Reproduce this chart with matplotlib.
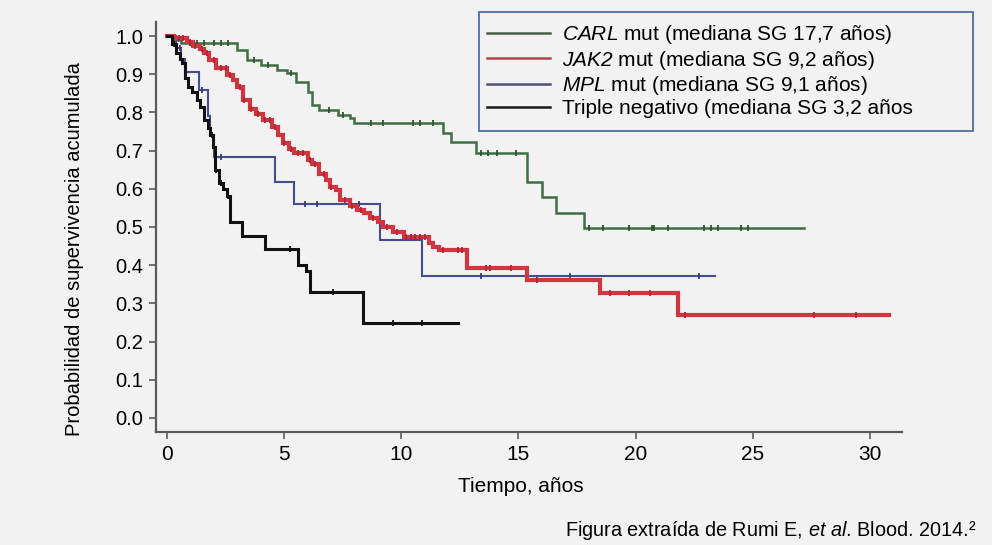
import numpy as np
import matplotlib
matplotlib.use("Agg")
import matplotlib.pyplot as plt
from matplotlib.lines import Line2D
from matplotlib.patches import Rectangle

plt.rcParams['font.family'] = ['Liberation Sans', 'DejaVu Sans']
plt.rcParams['mathtext.fontset'] = 'custom'
# math parts are only used for italic words, so digits there must be italic too
plt.rcParams['mathtext.rm'] = 'Liberation Sans:italic'
plt.rcParams['mathtext.it'] = 'Liberation Sans:italic'

# Kaplan-Meier curves: change times (years) and survival after each change
green_t = [0, 0.3, 0.6, 3.0, 3.4, 4.0, 4.7, 5.1, 5.5, 6.0, 6.2, 6.5, 7.3, 7.8, 8.0,
           11.8, 12.1, 13.2, 15.35, 16.0, 16.6, 17.8]
green_s = [1.0, 0.99, 0.982, 0.963, 0.937, 0.924, 0.911, 0.903, 0.88, 0.853, 0.82, 0.806,
           0.793, 0.785, 0.772, 0.746, 0.722, 0.694, 0.618, 0.579, 0.537, 0.497]
green_end = 27.2
green_cens = [1.0, 1.3, 1.6, 2.0, 2.3, 2.6, 3.7, 4.3, 5.3, 6.9, 7.5, 8.7, 9.2, 10.5, 10.8,
              11.35, 13.4, 13.7, 14.1, 14.9, 18.0, 18.6, 19.7, 20.7, 20.8, 21.4, 22.9,
              23.2, 23.5, 24.5, 24.8]

red_t = [0, 0.3, 0.85, 1.1, 1.4, 1.6, 1.8, 2.1, 2.56, 2.8, 3.0, 3.25, 3.54, 3.8, 4.1, 4.5,
         4.75, 4.95, 5.2, 5.4, 6.0, 6.2, 6.5, 6.8, 6.96, 7.2, 7.4, 7.8, 8.1, 8.4, 8.66, 9.0,
         9.2, 9.65, 10.1, 11.2, 11.35, 11.6, 12.8, 15.35, 18.5, 21.8]
red_s = [1.0, 0.995, 0.985, 0.975, 0.965, 0.955, 0.937, 0.916, 0.898, 0.885, 0.867, 0.832,
         0.81, 0.795, 0.78, 0.762, 0.74, 0.72, 0.705, 0.694, 0.675, 0.665, 0.64, 0.623,
         0.605, 0.597, 0.571, 0.555, 0.545, 0.537, 0.524, 0.512, 0.50, 0.487, 0.474, 0.458,
         0.448, 0.44, 0.393, 0.361, 0.327, 0.27]
red_end = 30.8
red_cens = [0.5, 0.7, 1.0, 1.2, 1.5, 1.7, 2.0, 2.3, 2.5, 2.7, 3.1, 3.3, 3.6, 3.9, 4.2, 4.4,
            4.6, 5.0, 5.3, 5.6, 5.8, 6.1, 6.3, 6.7, 7.0, 7.6, 7.9, 8.3, 8.8, 9.4, 9.8,
            10.2, 10.4, 10.6, 10.8, 11.0, 11.8, 12.4, 12.6, 13.6, 13.8, 14.7, 15.8, 18.9,
            19.7, 20.6, 22.1, 27.6, 29.4]

blue_t = [0, 0.4, 0.6, 0.75, 1.35, 1.75, 1.85, 2.0, 4.6, 5.4, 9.1, 10.9]
blue_s = [1.0, 0.97, 0.94, 0.906, 0.86, 0.79, 0.74, 0.683, 0.618, 0.56, 0.466, 0.372]
blue_end = 23.4
blue_cens = [0.55, 1.5, 2.3, 5.9, 6.4, 8.2, 13.4, 17.2, 22.7]

black_t = [0, 0.2, 0.4, 0.55, 0.65, 0.77, 0.9, 1.07, 1.28, 1.4, 1.6, 1.75, 1.83, 1.96,
           2.05, 2.2, 2.4, 2.56, 2.7, 3.2, 4.2, 5.6, 5.95, 6.1, 8.37]
black_s = [1.0, 0.98, 0.955, 0.94, 0.93, 0.89, 0.867, 0.853, 0.832, 0.814, 0.78, 0.76,
           0.74, 0.71, 0.65, 0.615, 0.60, 0.58, 0.513, 0.476, 0.442, 0.40, 0.385, 0.33, 0.249]
black_end = 12.4
black_cens = [0.3, 1.9, 2.1, 2.3, 2.6, 5.25, 7.1, 9.65, 10.9]

labels = [r'$CARL$ mut (mediana SG 17,7 años)',
          r'$JAK2$ mut (mediana SG 9,2 años)',
          r'$MPL$ mut (mediana SG 9,1 años)',
          'Triple negativo (mediana SG 3,2 años']

BG = '#f2f2f2'

fig = plt.figure(figsize=(9.92, 5.45), dpi=100, facecolor=BG)
ax = fig.add_axes([156 / 992, 113 / 545, 746 / 992, 410 / 545])
ax.set_facecolor(BG)


def km(t, s, end, cens, color, lw, mcolor):
    tt = list(t) + [end]
    ss = list(s) + [s[-1]]
    ax.step(tt, ss, where='post', color=color, lw=lw, solid_joinstyle='miter')
    idx = np.searchsorted(t, cens, side='right') - 1
    ax.plot(cens, np.array(s)[idx], ls='none', marker='|', ms=5, mew=1.3, color=mcolor)


km(green_t, green_s, green_end, green_cens, '#3f6e43', 1.8, '#2e5533')
km(blue_t, blue_s, blue_end, blue_cens, '#414f8f', 1.5, '#343f73')
km(red_t, red_s, red_end, red_cens, '#d0363f', 3.0, '#b22533')
km(black_t, black_s, black_end, black_cens, '#111111', 2.2, '#111111')

ax.set_xlim(-0.47, 31.37)
ax.set_ylim(-0.037, 1.037)
ax.set_xticks(np.arange(0, 31, 5))
ax.set_yticks(np.arange(0, 1.01, 0.1))
ax.set_yticklabels([f'{v:.1f}' for v in np.arange(0, 1.01, 0.1)])
for side in ['top', 'right']:
    ax.spines[side].set_visible(False)
for side in ['left', 'bottom']:
    ax.spines[side].set_color('#5a5a5a')
    ax.spines[side].set_linewidth(1.6)
ax.tick_params(axis='both', direction='out', length=5, width=1.2, color='#5a5a5a')
ax.tick_params(axis='y', labelsize=14.5, pad=4)
ax.tick_params(axis='x', labelsize=15, pad=4)

ax.set_ylabel('Probabilidad de supervivencia acumulada', fontsize=14.5, va='center')
ax.yaxis.set_label_coords(-0.109, 0.445)
ax.set_xlabel('Tiempo, años', fontsize=15, va='center')
ax.xaxis.set_label_coords(0.489, -0.134)

handles = [Line2D([], [], color=c, lw=1.8) for c in ['#4a5f4a', '#b04545', '#50507a', '#1a1a1a']]
fig.legend(handles, labels, loc='upper left', bbox_to_anchor=(487 / 992, 1 - 23 / 545),
           frameon=False, fontsize=15, handlelength=3.0, handletextpad=0.6,
           labelspacing=0.12, borderpad=0, borderaxespad=0)
fig.patches.append(Rectangle((479 / 992, 1 - 131 / 545), 494 / 992, 119 / 545,
                             transform=fig.transFigure, fill=False,
                             edgecolor='#4f6f9f', lw=1.3))

fig.text(565 / 992, 1 - 531 / 545, r'Figura extraída de Rumi E, $et\ al$. Blood. 2014.²',
         fontsize=14.3, va='center', ha='left')

fig.savefig('out.png', dpi=100, facecolor=BG)
